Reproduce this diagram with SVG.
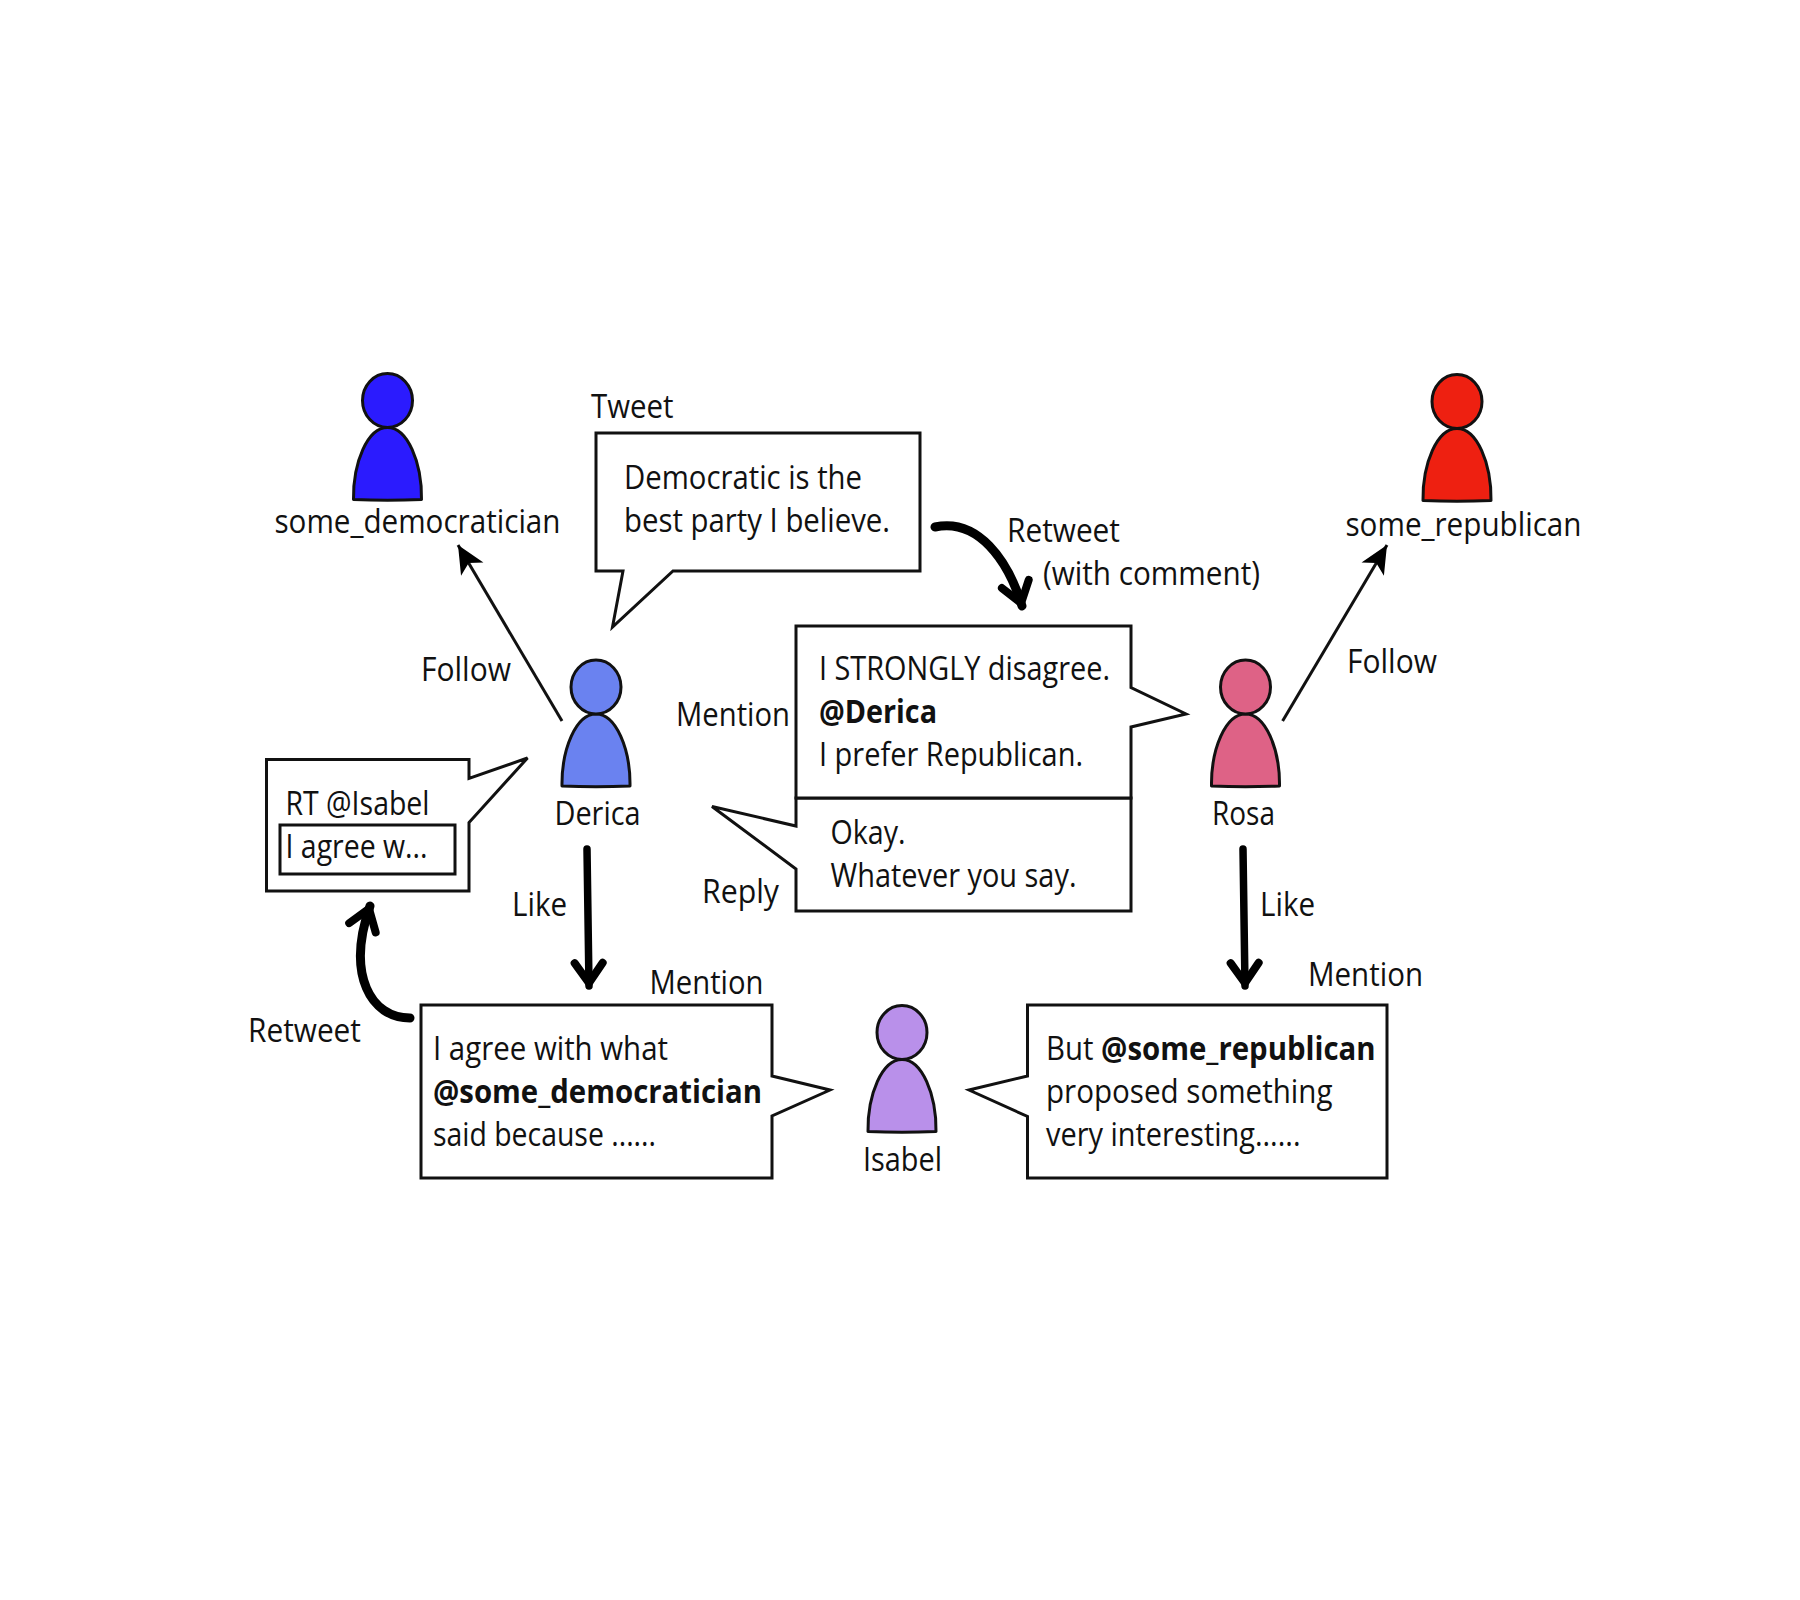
<svg xmlns="http://www.w3.org/2000/svg" width="1800" height="1600" viewBox="0 0 1800 1600">
<style>
text{font-family:"Open Sans","Noto Sans","Liberation Sans",sans-serif;font-size:33px;fill:#111}
.b{font-weight:700}
.bub{fill:#fff;stroke:#111;stroke-width:3;stroke-linejoin:miter}
.body{stroke:#111;stroke-width:3;stroke-linejoin:round}
.thin{fill:none;stroke:#111;stroke-width:3}
.thick{fill:none;stroke:#000;stroke-width:7.5;stroke-linecap:round}
.curve{stroke-width:9}
</style>
<defs>
<g id="person">
<path class="body" d="M-34 99C-34.5 62 -20 27 0 27C20 27 34.5 62 34 99C12 100 -12 100 -34 99Z"/>
<ellipse class="body" cx="0" cy="0" rx="25" ry="27"/>
</g>
<marker id="stealth" markerUnits="userSpaceOnUse" markerWidth="40" markerHeight="40" refX="28" refY="15" orient="auto" overflow="visible">
<path d="M28 15L0 2L7 15L0 28Z" fill="#000"/>
</marker>
<marker id="veeCurve" markerUnits="userSpaceOnUse" markerWidth="50" markerHeight="50" refX="29" refY="20" orient="auto" overflow="visible">
<path d="M6 6L26 20L6 34" fill="none" stroke="#000" stroke-width="8" stroke-linecap="round" stroke-linejoin="round"/>
</marker>
</defs>

<g id="connectors">
<line class="thin" x1="562" y1="721" x2="458" y2="545" marker-end="url(#stealth)"/>
<line class="thin" x1="1282.6" y1="721" x2="1387" y2="545" marker-end="url(#stealth)"/>
<path class="thick curve" d="M935 527C978 518 1008 560 1022 606" marker-end="url(#veeCurve)"/>
<line class="thick" x1="587" y1="849" x2="589" y2="986" marker-end="url(#veeCurve)"/>
<line class="thick" x1="1243" y1="849" x2="1245" y2="986" marker-end="url(#veeCurve)"/>
<path class="thick curve" d="M410 1018C371 1018 346 975 370 906" marker-end="url(#veeCurve)"/>
</g>

<g id="some_democratician">
<use href="#person" x="387.5" y="400.5" fill="#2b1bfe"/>
<text x="274.5" y="533" textLength="286" lengthAdjust="spacingAndGlyphs">some_democratician</text>
</g>
<g id="some_republican">
<use href="#person" x="1457" y="401.5" fill="#ee2011"/>
<text x="1345.5" y="536" textLength="236" lengthAdjust="spacingAndGlyphs">some_republican</text>
</g>
<g id="derica">
<use href="#person" x="596" y="687" fill="#6a82f0"/>
<text x="554.5" y="825" textLength="86" lengthAdjust="spacingAndGlyphs">Derica</text>
</g>
<g id="rosa">
<use href="#person" x="1245.5" y="687" fill="#de6286"/>
<text x="1212" y="825" textLength="63" lengthAdjust="spacingAndGlyphs">Rosa</text>
</g>
<g id="isabel">
<use href="#person" x="902" y="1032.5" fill="#b990ea"/>
<text x="863" y="1171" textLength="79" lengthAdjust="spacingAndGlyphs">Isabel</text>
</g>

<g id="tweet">
<path class="bub" d="M596 433H920V571H673L612.5 627L623 571H596Z"/>
<text x="624" y="489" textLength="238" lengthAdjust="spacingAndGlyphs">Democratic is the</text>
<text x="624" y="532" textLength="266" lengthAdjust="spacingAndGlyphs">best party I believe.</text>
<text x="591" y="418" textLength="82.5" lengthAdjust="spacingAndGlyphs">Tweet</text>
</g>

<g id="reply">
<path class="bub" d="M796 798H1131V911H796V869L712 806.5L796 826Z"/>
<text x="830.5" y="843.5" textLength="75" lengthAdjust="spacingAndGlyphs">Okay.</text>
<text x="830.5" y="887" textLength="246" lengthAdjust="spacingAndGlyphs">Whatever you say.</text>
<text x="702" y="903" textLength="77" lengthAdjust="spacingAndGlyphs">Reply</text>
</g>

<g id="comment">
<path class="bub" d="M796 626H1131V687.5L1186 714L1131 727V798H796Z"/>
<text x="819" y="680" textLength="291" lengthAdjust="spacingAndGlyphs">I STRONGLY disagree.</text>
<text class="b" x="819" y="722.5" textLength="118" lengthAdjust="spacingAndGlyphs">@Derica</text>
<text x="819" y="766" textLength="264" lengthAdjust="spacingAndGlyphs">I prefer Republican.</text>
<text x="676" y="726" textLength="114" lengthAdjust="spacingAndGlyphs">Mention</text>
</g>

<g id="retweet_box">
<path class="bub" d="M266.5 759.5H469V778.5L527.5 758L469 822.5V891H266.5Z"/>
<rect class="bub" x="280" y="825" width="175" height="49"/>
<text x="285.5" y="815" textLength="144" lengthAdjust="spacingAndGlyphs">RT @Isabel</text>
<text x="285.5" y="858" textLength="142" lengthAdjust="spacingAndGlyphs">I agree w...</text>
</g>

<g id="mention_left">
<path class="bub" d="M421 1005H772V1076L830 1090L772 1116V1178H421Z"/>
<text x="433" y="1060" textLength="235" lengthAdjust="spacingAndGlyphs">I agree with what</text>
<text class="b" x="433" y="1103" textLength="329" lengthAdjust="spacingAndGlyphs">@some_democratician</text>
<text x="433" y="1146" textLength="223" lengthAdjust="spacingAndGlyphs">said because ......</text>
<text x="649.5" y="994" textLength="114" lengthAdjust="spacingAndGlyphs">Mention</text>
</g>

<g id="mention_right">
<path class="bub" d="M1027.5 1005H1387V1178H1027.5V1116.5L969 1090L1027.5 1076Z"/>
<text transform="translate(1046 1060) scale(.89 1)">But <tspan class="b">@some_republican</tspan></text>
<text x="1046" y="1103" textLength="286.5" lengthAdjust="spacingAndGlyphs">proposed something</text>
<text x="1046" y="1146" textLength="254.5" lengthAdjust="spacingAndGlyphs">very interesting......</text>
<text x="1308" y="986" textLength="115" lengthAdjust="spacingAndGlyphs">Mention</text>
</g>

<g id="labels">
<text x="421" y="681" textLength="90" lengthAdjust="spacingAndGlyphs">Follow</text>
<text x="1347" y="673" textLength="90" lengthAdjust="spacingAndGlyphs">Follow</text>
<text x="1007" y="542" textLength="113" lengthAdjust="spacingAndGlyphs">Retweet</text>
<text x="1043" y="585" textLength="217" lengthAdjust="spacingAndGlyphs">(with comment)</text>
<text x="512" y="916" textLength="55" lengthAdjust="spacingAndGlyphs">Like</text>
<text x="1260" y="915.5" textLength="55" lengthAdjust="spacingAndGlyphs">Like</text>
<text x="248" y="1042" textLength="113" lengthAdjust="spacingAndGlyphs">Retweet</text>
</g>
</svg>
